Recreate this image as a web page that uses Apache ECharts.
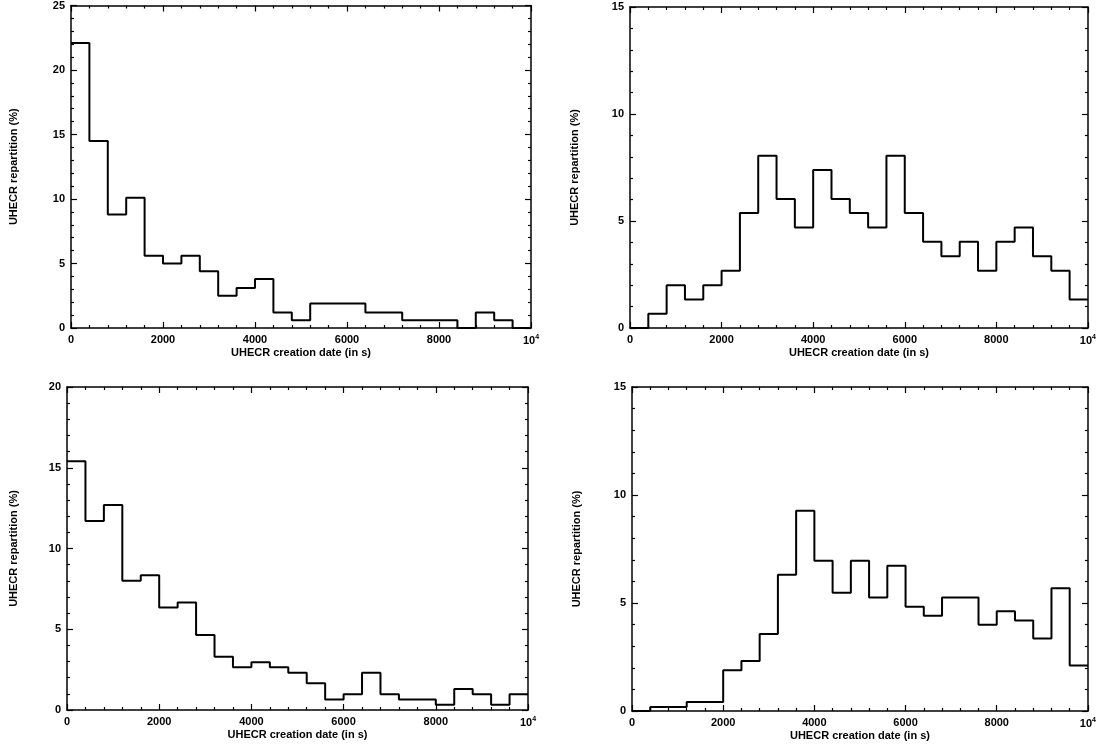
<!DOCTYPE html>
<html>
<head>
<meta charset="utf-8">
<script src="https://cdn.jsdelivr.net/npm/echarts@6/dist/echarts.min.js"></script>
<style>
  html, body { margin: 0; padding: 0; background: #fff; }
  #chart { width: 1099px; height: 747px; }
</style>
</head>
<body>
<div id="chart"></div>
<script>
/* ---------------------------- histogram values ---------------------------- */
// 25 bins of 400 s from 0 to 10^4 s, values in %
var binWidth = 400;
var panelA = [22.1, 14.5, 8.8, 10.1, 5.6, 5.0, 5.6, 4.4, 2.5, 3.1, 3.8, 1.2, 0.6,
  1.9, 1.9, 1.9, 1.2, 1.2, 0.6, 0.6, 0.6, 0, 1.2, 0.6, 0];
var panelB = [0, 0.67, 2.0, 1.33, 2.0, 2.67, 5.37, 8.05, 6.03, 4.7, 7.38, 6.03, 5.37,
  4.7, 8.05, 5.37, 4.03, 3.35, 4.03, 2.67, 4.03, 4.7, 3.35, 2.67, 1.33];
var panelC = [15.4, 11.7, 12.7, 8.0, 8.35, 6.35, 6.65, 4.65, 3.3, 2.65, 2.95, 2.65, 2.3,
  1.65, 0.65, 0.97, 2.3, 0.97, 0.65, 0.65, 0.32, 1.3, 0.97, 0.32, 0.97];
var panelD = [0, 0.19, 0.19, 0.42, 0.42, 1.89, 2.32, 3.57, 6.31, 9.27, 6.96, 5.47, 6.96,
  5.26, 6.73, 4.83, 4.41, 5.26, 5.26, 3.99, 4.62, 4.19, 3.36, 5.68, 2.11];
var yMaxes = [25, 15, 20, 15];
var xTitle = 'UHECR creation date (in s)';
var yTitle = 'UHECR repartition (%)';

var chartDom = document.getElementById('chart');
var myChart = echarts.init(chartDom);

var grids = [
  { left: 71, top: 5, width: 460, height: 323 },
  { left: 630, top: 7, width: 458, height: 321 },
  { left: 67, top: 387, width: 461, height: 323 },
  { left: 632, top: 387, width: 459, height: 324 }
];

var font = { fontFamily: 'Liberation Sans', fontWeight: 'bold', fontSize: 11, color: '#000' };
var tick = { inside: true, length: 6, lineStyle: { color: '#000', width: 1.2 } };
var minor = { show: true, splitNumber: 5, length: 3, lineStyle: { color: '#000', width: 1.2 } };

function stepData(values) {
  var pts = values.map(function (v, i) { return [i * binWidth, v]; });
  pts.push([values.length * binWidth, values[values.length - 1]]);
  return pts;
}

var xAxes = [], yAxes = [], series = [];
[panelA, panelB, panelC, panelD].forEach(function (values, g) {
  var common = {
    gridIndex: g,
    type: 'value',
    axisLine: { show: true, onZero: false, lineStyle: { color: '#000', width: 1.5 } },
    axisTick: tick,
    minorTick: minor,
    splitLine: { show: false }
  };
  // bottom x axis with labels
  xAxes.push(Object.assign({}, common, {
    position: 'bottom', min: 0, max: 10000, interval: 2000,
    axisLabel: Object.assign({}, font, {
      margin: 6,
      formatter: function (v) { return v === 10000 ? '10{s|4}' : String(v); },
      rich: { s: { fontSize: 7, fontWeight: 'bold', fontFamily: 'Liberation Sans', verticalAlign: 'top', padding: [0, 0, 7, 0] } }
    }),
    name: xTitle, nameLocation: 'middle', nameGap: 18,
    nameTextStyle: font
  }));
  // top x axis, ticks only
  xAxes.push(Object.assign({}, common, {
    position: 'top', min: 0, max: 10000, interval: 2000,
    axisLabel: { show: false }
  }));
  yAxes.push(Object.assign({}, common, {
    position: 'left', min: 0, max: yMaxes[g], interval: 5,
    axisLabel: Object.assign({}, font, { margin: 6 }),
    name: yTitle, nameLocation: 'middle', nameGap: g === 0 ? 52 : (g === 2 ? 48 : 50),
    nameRotate: 90,
    nameTextStyle: font
  }));
  // right y axis, ticks only
  yAxes.push(Object.assign({}, common, {
    position: 'right', min: 0, max: yMaxes[g], interval: 5,
    axisLabel: { show: false }
  }));
  series.push({
    type: 'line',
    xAxisIndex: g * 2,
    yAxisIndex: g * 2,
    step: 'end',
    symbol: 'none',
    animation: false,
    lineStyle: { color: '#000', width: 2 },
    data: stepData(values)
  });
});

var option = {
  animation: false,
  grid: grids,
  xAxis: xAxes,
  yAxis: yAxes,
  series: series
};

option && myChart.setOption(option);
</script>
</body>
</html>
